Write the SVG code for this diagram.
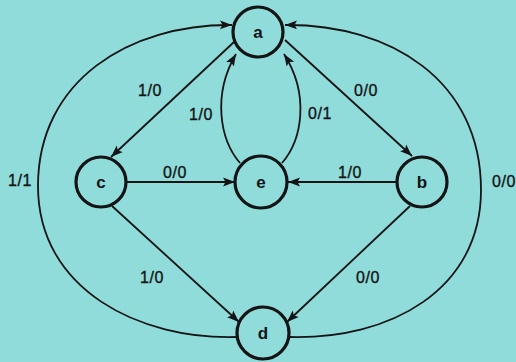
<svg xmlns="http://www.w3.org/2000/svg" width="516" height="362" viewBox="0 0 516 362">
<style>
.bg{fill:#8fdcdb}
.node circle{fill:none;stroke:#141414;stroke-width:3.2}
.node text{font-family:"Liberation Sans",Arial,sans-serif;font-weight:bold;font-size:17px;fill:#141414;text-anchor:middle}
.edge{fill:none;stroke:#141414;stroke-width:1.8}
.lbl{font-family:"Liberation Sans",Arial,sans-serif;font-size:16px;letter-spacing:0.6px;fill:#141414;text-anchor:middle;stroke:#141414;stroke-width:0.35}
</style>
<defs>
<marker id="arr" markerUnits="userSpaceOnUse" markerWidth="14" markerHeight="10" refX="12" refY="5" orient="auto">
<path d="M0,0.5 L12,5 L0,9.5 L2.5,5 Z" fill="#141414"/>
</marker>
</defs>
<rect class="bg" x="0" y="0" width="516" height="362"/>
<g id="connectors">
<path class="edge" d="M234 42 L111 157" marker-end="url(#arr)"/>
<path class="edge" d="M285 40 L412 156" marker-end="url(#arr)"/>
<path class="edge" d="M240 163 C220 140 212 95 236 54" marker-end="url(#arr)"/>
<path class="edge" d="M282 163 C302 140 310 95 284 54" marker-end="url(#arr)"/>
<path class="edge" d="M127 182 L235 182" marker-end="url(#arr)"/>
<path class="edge" d="M397 182 L288 182" marker-end="url(#arr)"/>
<path class="edge" d="M112 206 L239 322" marker-end="url(#arr)"/>
<path class="edge" d="M410 206 L287 322" marker-end="url(#arr)"/>
<path class="edge" d="M237 337 C140 340 38 290 38 186 C38 80 130 24 232 25" marker-end="url(#arr)"/>
<path class="edge" d="M289 337 C390 340 481 290 481 190 C481 80 390 24 285 25" marker-end="url(#arr)"/>
<text class="lbl" x="150" y="96">1/0</text>
<text class="lbl" x="366" y="96">0/0</text>
<text class="lbl" x="201" y="120">1/0</text>
<text class="lbl" x="320" y="119">0/1</text>
<text class="lbl" x="175" y="178">0/0</text>
<text class="lbl" x="350" y="178">1/0</text>
<text class="lbl" x="152" y="283">1/0</text>
<text class="lbl" x="368" y="283">0/0</text>
<text class="lbl" x="20" y="186">1/1</text>
<text class="lbl" x="492" y="187" style="text-anchor:start">0/0</text>
</g>
<g id="node-a" class="node"><circle cx="258" cy="32" r="25"/><text x="258" y="38">a</text></g>
<g id="node-c" class="node"><circle cx="101" cy="182" r="25"/><text x="101" y="188">c</text></g>
<g id="node-e" class="node"><circle cx="261" cy="182" r="26"/><text x="261" y="188">e</text></g>
<g id="node-b" class="node"><circle cx="422" cy="182" r="25"/><text x="422" y="188">b</text></g>
<g id="node-d" class="node"><circle cx="263" cy="333" r="26"/><text x="263" y="339">d</text></g>
</svg>
